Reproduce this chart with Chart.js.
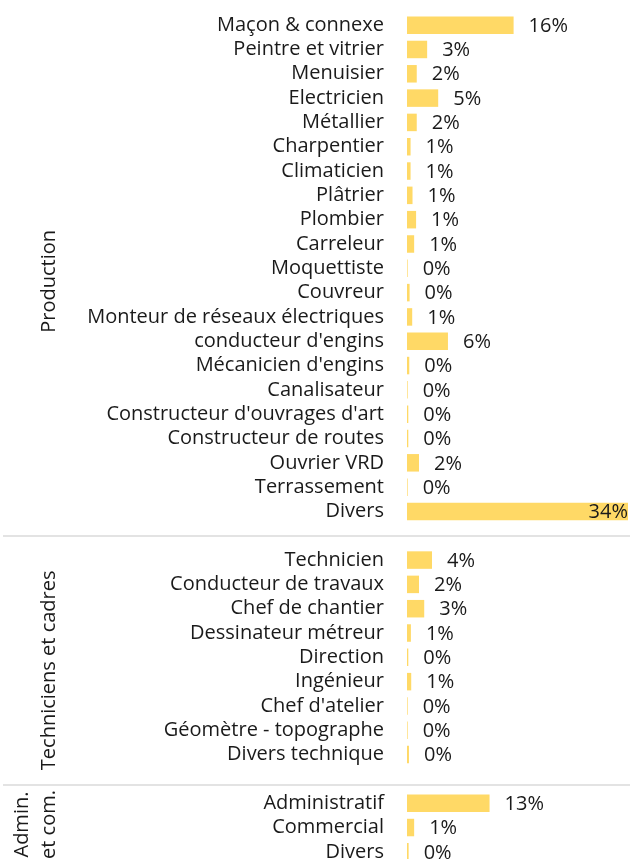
<!DOCTYPE html>
<html>
<head>
<meta charset="utf-8">
<script src="https://cdn.jsdelivr.net/npm/chart.js@4/dist/chart.umd.min.js"></script>
<style>
  html, body { margin: 0; padding: 0; background: #fff; overflow: hidden; }
  #wrap { width: 630px; height: 876px; position: relative; }
</style>
</head>
<body>
<div id="wrap"><canvas id="metiers"></canvas></div>
<script>
// groupes (bandeau vertical a gauche)
const groupes = [['Production'], ['Techniciens et cadres'], ['Admin.', 'et com.']];

// Production
const prodMetiers = ['Maçon & connexe', 'Peintre et vitrier', 'Menuisier', 'Electricien', 'Métallier',
  'Charpentier', 'Climaticien', 'Plâtrier', 'Plombier', 'Carreleur', 'Moquettiste', 'Couvreur',
  'Monteur de réseaux électriques', "conducteur d'engins", "Mécanicien d'engins", 'Canalisateur',
  "Constructeur d'ouvrages d'art", 'Constructeur de routes', 'Ouvrier VRD', 'Terrassement', 'Divers'];
const prodParts = [16.4, 3.1, 1.5, 4.8, 1.5, 0.55, 0.55, 0.85, 1.4, 1.1, 0.1, 0.4,
  0.8, 6.3, 0.35, 0.1, 0.2, 0.2, 1.85, 0.1, 34.0];

// Techniciens et cadres
const techMetiers = ['Technicien', 'Conducteur de travaux', 'Chef de chantier', 'Dessinateur métreur',
  'Direction', 'Ingénieur', "Chef d'atelier", 'Géomètre - topographe', 'Divers technique'];
const techParts = [3.85, 1.85, 2.65, 0.6, 0.2, 0.65, 0.1, 0.1, 0.3];

// Admin. et com.
const adminMetiers = ['Administratif', 'Commercial', 'Divers'];
const adminParts = [12.7, 1.1, 0.25];

// on colle les groupes avec une ligne vide entre chacun
const blocs = [[prodMetiers, prodParts], [techMetiers, techParts], [adminMetiers, adminParts]];
const labels = [];
const valeurs = [];
const debuts = [];
const separateurs = [];
blocs.forEach(function(b, i) {
  if (i > 0) {
    separateurs.push(labels.length);
    labels.push('');
    valeurs.push(null);
  }
  debuts.push(labels.length);
  b[0].forEach(function(m, j) {
    labels.push(m);
    valeurs.push(b[1][j]);
  });
});

const police = '"Open Sans", sans-serif';
const texte = '#1a1a1a';

const decor = {
  id: 'decor',
  beforeDatasetsDraw(chart) {
    const ctx = chart.ctx;
    const y = chart.scales.y;
    ctx.save();
    ctx.strokeStyle = '#e3e3e3';
    ctx.lineWidth = 2;
    separateurs.forEach(function(idx, k) {
      // le 2e trait est un peu plus bas que le milieu dans l'original
      const py = Math.round(y.getPixelForValue(idx)) + (k === 1 ? 6 : 0);
      ctx.beginPath();
      ctx.moveTo(3, py);
      ctx.lineTo(chart.width, py);
      ctx.stroke();
    });
    ctx.restore();
  },
  afterDatasetsDraw(chart) {
    const ctx = chart.ctx;
    const area = chart.chartArea;
    const y = chart.scales.y;
    ctx.save();
    ctx.font = '20px ' + police;
    ctx.fillStyle = texte;
    ctx.textBaseline = 'middle';

    // pourcentages a droite des barres
    chart.getDatasetMeta(0).data.forEach(function(bar, i) {
      const v = valeurs[i];
      if (v === null) return;
      const txt = Math.round(v) + '%';
      const w = ctx.measureText(txt).width;
      let x = bar.x + 15;
      if (x + w > area.right) {
        ctx.textAlign = 'right';
        x = area.right;
      } else {
        ctx.textAlign = 'left';
      }
      ctx.fillText(txt, x, bar.y + 1);
    });

    // noms des groupes, texte vertical
    const decal = [13, 13, -3];
    ctx.textAlign = 'center';
    ctx.textBaseline = 'alphabetic';
    groupes.forEach(function(lignes, g) {
      const premier = debuts[g];
      const dernier = premier + blocs[g][0].length - 1;
      const cy = (y.getPixelForValue(premier) + y.getPixelForValue(dernier)) / 2 + decal[g];
      lignes.forEach(function(l, k) {
        const bx = 55 - (lignes.length - 1 - k) * 27;
        ctx.save();
        ctx.translate(bx, cy);
        ctx.rotate(-Math.PI / 2);
        ctx.fillText(l, 0, 0);
        ctx.restore();
      });
    });
    ctx.restore();
  }
};

new Chart(document.getElementById('metiers'), {
  type: 'bar',
  data: {
    labels: labels,
    datasets: [{
      data: valeurs,
      backgroundColor: '#FFD966',
      borderWidth: 0,
      barPercentage: 0.72,
      categoryPercentage: 1
    }]
  },
  options: {
    indexAxis: 'y',
    responsive: true,
    maintainAspectRatio: false,
    animation: false,
    layout: { padding: { top: 13, bottom: 0, left: 0, right: 2 } },
    plugins: { legend: { display: false }, tooltip: { enabled: false } },
    scales: {
      x: { display: false, min: 0, max: 34 },
      y: {
        grid: { display: false, drawTicks: true, tickLength: 23 },
        border: { display: false },
        ticks: {
          autoSkip: false,
          padding: 0,
          color: texte,
          font: { family: police, size: 20 }
        },
        afterFit: function(scale) { scale.width = 407; }
      }
    }
  },
  plugins: [decor]
});
</script>
</body>
</html>
